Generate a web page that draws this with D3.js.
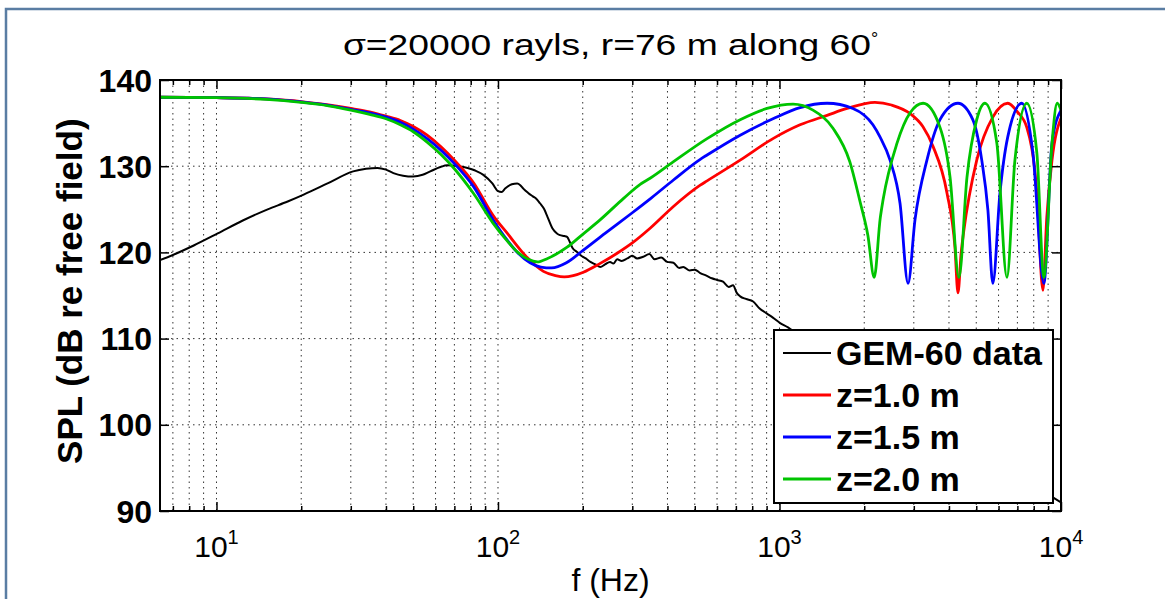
<!DOCTYPE html>
<html>
<head>
<meta charset="utf-8">
<style>
body { margin: 0; background: #fff; }
svg { display: block; font-family: "Liberation Sans", Arial, Helvetica, sans-serif; }
</style>
</head>
<body>
<svg width="1165" height="599"></svg>
<script src="https://d3js.org/d3.v7.min.js"></script>
<script>

var gemFreq = [6.3, 7, 8.3, 10.1, 12.4, 15.2, 17.9, 20.4, 24.8, 30.6, 34, 37.3, 40, 42.5, 46, 50, 54, 57.5, 62.4, 66, 72, 78, 83, 88.7, 95.5, 100, 103, 106, 112, 117, 120, 123, 128, 133, 137, 141, 146, 150, 156, 162, 166, 172, 176, 180, 184, 190, 196, 205, 213, 222, 231, 240, 250, 257, 265, 275, 288, 300, 312, 328, 345, 360, 380, 399, 420, 440, 455, 480, 500, 523, 550, 575, 600, 630, 660, 684, 705, 725, 760, 806, 850, 903, 950, 1005, 1072, 1150, 1400, 2000, 3000, 4000, 6000, 8000, 10000];
var gemLevel = [119.1, 119.7, 120.8, 122.2, 123.7, 125.0, 125.9, 126.7, 128.0, 129.4, 129.7, 129.8, 129.6, 129.2, 128.9, 128.8, 129.0, 129.4, 129.9, 130.1, 130.0, 129.8, 129.5, 129.0, 128.0, 127.1, 127.0, 127.4, 127.9, 128.0, 127.8, 127.4, 126.9, 126.5, 126.2, 125.7, 125.0, 124.1, 122.8, 122.2, 122.0, 121.9, 121.8, 121.2, 120.5, 120.1, 119.7, 119.3, 118.9, 118.6, 118.3, 118.6, 118.9, 118.7, 119.2, 119.0, 119.3, 119.6, 119.3, 119.5, 119.8, 119.2, 119.4, 118.9, 118.8, 118.2, 118.3, 117.9, 118.0, 117.6, 117.3, 117.0, 116.8, 116.6, 116.0, 116.2, 115.3, 114.9, 114.6, 114.3, 113.5, 112.9, 112.4, 111.8, 111.3, 110.6, 109.0, 106.5, 103.0, 100.5, 96.0, 93.0, 91.0];

// model, source height z = 1.0 m
var z10Freq = [6.3, 10, 15, 20, 25, 30, 35, 40, 45, 50, 56, 63, 70, 82, 96, 108, 127, 145, 160, 172, 185, 201, 230, 265, 300, 347, 419, 523, 553, 725, 948, 1183, 1476, 1738, 2183, 2500, 2911, 3230, 3510, 3935, 4200, 4305, 4420, 4507, 5020, 5725, 6470, 7000, 7560, 8210, 8625, 8900, 9290, 10000];
var z10Level = [138.0, 137.95, 137.8, 137.5, 137.1, 136.7, 136.3, 135.8, 135.3, 134.6, 133.6, 132.2, 130.7, 128.05, 124.3, 122.2, 119.4, 117.8, 117.3, 117.15, 117.3, 117.7, 118.7, 119.9, 121.1, 122.8, 125.3, 127.8, 128.3, 130.7, 133.2, 134.8, 135.9, 136.7, 137.4, 137.1, 136.1, 134.6, 132.3, 126.9, 120.6, 115.3, 120.0, 122.3, 130.7, 135.7, 137.3, 136.3, 134.5, 126.9, 115.6, 124.0, 130.7, 135.6];

// model, z = 1.5 m
var z15Freq = [6.3, 10, 15, 20, 25, 30, 35, 40, 45, 50, 56, 63, 70, 82, 96, 108, 118, 130, 142, 155, 175, 200, 240, 300, 350, 420, 523, 553, 725, 948, 1183, 1476, 1823, 2147, 2275, 2470, 2680, 2862, 3030, 3340, 3717, 4305, 4860, 5230, 5500, 5725, 6070, 6470, 7260, 7950, 8690, 9290, 10000];
var z15Level = [138.0, 137.95, 137.8, 137.45, 137.05, 136.6, 136.2, 135.7, 135.1, 134.3, 133.2, 131.8, 130.3, 127.6, 123.8, 121.4, 119.9, 118.8, 118.3, 118.2, 118.8, 120.2, 122.2, 124.6, 126.3, 128.4, 130.8, 131.3, 133.6, 135.5, 136.8, 137.3, 136.7, 134.8, 133.4, 130.7, 125.7, 116.4, 123.8, 130.7, 135.4, 137.3, 135.4, 130.7, 124.9, 116.4, 126.9, 133.4, 137.3, 131.5, 116.4, 132.7, 136.5];

// model, z = 2.0 m
var z20Freq = [6.3, 10, 15, 20, 25, 30, 35, 40, 45, 50, 56, 63, 70, 82, 96, 108, 117.6, 128, 138, 150, 176, 200, 231, 280, 320, 347, 419, 553, 725, 903, 1117, 1315, 1549, 1778, 1932, 2060, 2170, 2280, 2333, 2617, 2911, 3236, 3717, 4036, 4340, 4634, 5020, 5370, 5916, 6425, 6860, 7560, 8210, 8690, 9290, 9690, 10000];
var z20Level = [138.0, 137.95, 137.75, 137.4, 137.0, 136.5, 136.0, 135.5, 134.8, 134.0, 132.8, 131.3, 129.7, 126.8, 123.4, 121.3, 120.0, 119.2, 118.9, 119.3, 120.6, 122.1, 123.8, 126.3, 127.9, 128.6, 130.5, 133.2, 135.4, 136.7, 137.2, 136.5, 134.4, 130.5, 125.9, 122.0, 117.1, 124.0, 126.1, 132.7, 136.2, 137.3, 134.5, 128.7, 117.1, 128.7, 135.4, 137.3, 132.7, 117.1, 130.7, 137.3, 131.5, 117.1, 132.7, 137.3, 136.5];

var seriesNames = ["GEM-60 data", "z=1.0 m", "z=1.5 m", "z=2.0 m"];
var yTickValues = [90, 100, 110, 120, 130, 140];
var xMajorTicks = [10, 100, 1000, 10000];
var xTickExponents = ["1", "2", "3", "4"];
var xMinorTicks = [7, 8, 9, 20, 30, 40, 50, 60, 70, 80, 90, 200, 300, 400, 500, 600, 700, 800, 900, 2000, 3000, 4000, 5000, 6000, 7000, 8000, 9000];

var colors = ["#000000", "#ff0000", "#0000ff", "#00c400"];

var svg = d3.select("svg"),
    margin = {top: 80, right: 104, bottom: 88, left: 160},
    width = +svg.attr("width") - margin.left - margin.right,
    height = +svg.attr("height") - margin.top - margin.bottom;

svg.append("rect").attr("width", 1165).attr("height", 599).attr("fill", "#fff");

// outer figure frame (only top and left edges visible)
svg.append("path")
    .attr("d", "M6,599V9H1165")
    .attr("fill", "none")
    .attr("stroke", "#5a7da3")
    .attr("stroke-width", 2.5);

var g = svg.append("g").attr("transform", "translate(" + margin.left + "," + margin.top + ")");

var x = d3.scaleLog().domain([6.3, 10000]).range([0, width]);
var y = d3.scaleLinear().domain([90, 140]).range([height, 0]);

// dotted grid
var allX = xMinorTicks.concat(xMajorTicks).filter(function(d) { return d < 10000; });
g.selectAll(".vgrid").data(allX).enter().append("line")
    .attr("x1", function(d) { return x(d); })
    .attr("x2", function(d) { return x(d); })
    .attr("y1", 0).attr("y2", height)
    .attr("stroke", "#333").attr("stroke-width", 1)
    .attr("stroke-dasharray", "1.5,4");

g.selectAll(".hgrid").data(yTickValues.slice(1, -1)).enter().append("line")
    .attr("x1", 0).attr("x2", width)
    .attr("y1", function(d) { return y(d); })
    .attr("y2", function(d) { return y(d); })
    .attr("stroke", "#333").attr("stroke-width", 1)
    .attr("stroke-dasharray", "1.5,4");

// curves
g.append("clipPath").attr("id", "clip")
  .append("rect").attr("width", width).attr("height", height);

var line = d3.line()
    .x(function(d) { return x(d[0]); })
    .y(function(d) { return y(d[1]); })
    .curve(d3.curveMonotoneX);

var series = [
  d3.zip(gemFreq, gemLevel),
  d3.zip(z10Freq, z10Level),
  d3.zip(z15Freq, z15Level),
  d3.zip(z20Freq, z20Level)
];

series.forEach(function(s, i) {
  g.append("path")
      .datum(s)
      .attr("clip-path", "url(#clip)")
      .attr("fill", "none")
      .attr("stroke", colors[i])
      .attr("stroke-width", i === 0 ? 2 : 2.8)
      .attr("stroke-linejoin", "round")
      .attr("d", line);
});

// ticks on all four sides, pointing inward
function tickAxis(axis, values, size, transform) {
  g.append("g")
      .attr("transform", transform)
      .call(axis.tickValues(values).tickSizeInner(size).tickSizeOuter(0).tickFormat(""))
    .call(function(a) { a.select(".domain").remove(); a.selectAll("line").attr("stroke", "#000").attr("stroke-width", 1.5); });
}
tickAxis(d3.axisBottom(x), xMajorTicks, -9, "translate(0," + height + ")");
tickAxis(d3.axisBottom(x), xMinorTicks, -5, "translate(0," + height + ")");
tickAxis(d3.axisTop(x), xMajorTicks, -9, "translate(0,0)");
tickAxis(d3.axisTop(x), xMinorTicks, -5, "translate(0,0)");
tickAxis(d3.axisLeft(y), yTickValues, -9, "translate(0,0)");
tickAxis(d3.axisRight(y), yTickValues, -9, "translate(" + width + ",0)");

g.append("rect")
    .attr("width", width).attr("height", height)
    .attr("fill", "none").attr("stroke", "#000").attr("stroke-width", 2);

// y tick labels
g.selectAll(".ylab").data(yTickValues).enter().append("text")
    .attr("x", -8)
    .attr("y", function(d) { return y(d); })
    .attr("dy", "0.36em")
    .attr("text-anchor", "end")
    .attr("font-size", 32)
    .attr("font-weight", "bold")
    .text(function(d) { return d; });

// x tick labels as powers of ten
var xl = g.selectAll(".xlab").data(xMajorTicks).enter().append("text")
    .attr("x", function(d) { return x(d); })
    .attr("y", height + 46)
    .attr("text-anchor", "middle")
    .attr("font-size", 30);
xl.append("tspan").text("10");
xl.append("tspan")
    .attr("dy", -13)
    .attr("font-size", 20)
    .text(function(d, i) { return xTickExponents[i]; });

g.append("text")
    .attr("x", width / 2)
    .attr("y", height + 80)
    .attr("text-anchor", "middle")
    .attr("font-size", 32)
    .text("f (Hz)");

g.append("text")
    .attr("transform", "rotate(-90)")
    .attr("x", -(y(115.5)))
    .attr("y", -90)
    .attr("dy", "0.35em")
    .attr("text-anchor", "middle")
    .attr("font-size", 35)
    .attr("font-weight", "bold")
    .text("SPL (dB re free field)");

var title = g.append("text")
    .attr("x", width / 2)
    .attr("y", -25)
    .attr("text-anchor", "middle")
    .attr("font-size", 29);
title.append("tspan")
    .attr("textLength", 528)
    .attr("lengthAdjust", "spacingAndGlyphs")
    .text("\u03c3=20000 rayls, r=76 m along 60");
title.append("tspan").attr("dy", -10).attr("font-size", 18).text("\u00b0");

// legend
var legend = g.append("g").attr("transform", "translate(" + (width - 287) + "," + (height - 181) + ")");
legend.append("rect")
    .attr("width", 279).attr("height", 173)
    .attr("fill", "#fff").attr("stroke", "#000").attr("stroke-width", 2);

var rows = legend.selectAll(".row").data(seriesNames).enter().append("g")
    .attr("transform", function(d, i) { return "translate(0," + (23 + i * 42) + ")"; });
rows.append("line")
    .attr("x1", 9).attr("x2", 57)
    .attr("stroke", function(d, i) { return colors[i]; })
    .attr("stroke-width", function(d, i) { return i === 0 ? 2 : 2.8; });
rows.append("text")
    .attr("x", 62)
    .attr("dy", "0.36em")
    .attr("font-size", 34)
    .attr("font-weight", "bold")
    .text(function(d) { return d; });

</script>
</body>
</html>
